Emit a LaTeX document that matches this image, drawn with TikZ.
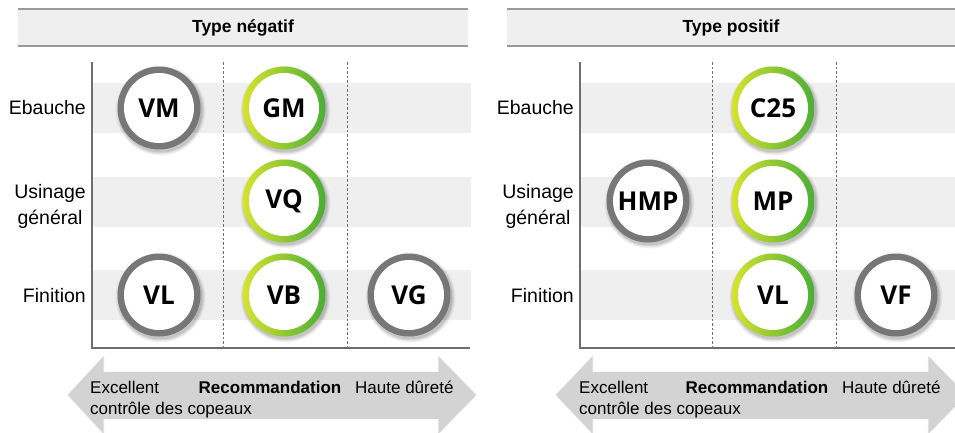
\documentclass[tikz,border=0pt]{standalone}
\usepackage{fontspec}
\setmainfont{Liberation Sans}
\newfontfamily\circfont{Open Sans}
\definecolor{bandgray}{HTML}{EFEFEF}
\definecolor{headline}{HTML}{9A9A9A}
\definecolor{axisgray}{HTML}{6E6E6E}
\definecolor{ringgray}{HTML}{777777}
\definecolor{ringyellow}{HTML}{D8E32E}
\definecolor{ringgreen}{HTML}{4AAE35}
\definecolor{arrowfill}{HTML}{D3D3D3}
\begin{document}
\begin{tikzpicture}[x=1pt,y=-1pt,
  band/.style={fill=bandgray},
  header/.style={fill=bandgray},
  headrule/.style={draw=headline, line width=1.2pt},
  axisline/.style={draw=axisgray, line width=1.2pt},
  sepline/.style={draw=axisgray, line width=0.8pt, dash pattern=on 2.5pt off 2pt},
  headtext/.style={font=\bfseries\fontsize{17.5}{20}\selectfont},
  rowlabel/.style={font=\fontsize{19.5}{26}\selectfont, align=center, inner sep=0},
  arrtxt/.style={font=\fontsize{17}{20}\selectfont, anchor=base west, inner sep=0},
  arrbold/.style={font=\bfseries\fontsize{17}{20}\selectfont, anchor=base, inner sep=0},
  ringbase/.style={circle, minimum size=83pt, inner sep=0pt,
    font=\circfont\bfseries\fontsize{26}{28}\selectfont,
    path picture={\fill[white] (path picture bounding box.center) circle (35pt);}},
  grayring/.style={ringbase, fill=ringgray},
  greenring/.style={ringbase, left color=ringyellow, right color=ringgreen},
  bigarrow/.style={fill=arrowfill, draw=white!88!arrowfill, line width=0.8pt}
]
\useasboundingbox (0,0) rectangle (955,432);

% ---------- headers ----------
\fill[header] (18,9) rectangle (468,46);
\draw[headrule] (18,9) -- (468,9) (18,46) -- (468,46);
\node[headtext] (hneg) at (243,27.5) {Type négatif};
\fill[header] (507,9) rectangle (955,46);
\draw[headrule] (507,9) -- (955,9) (507,46) -- (955,46);
\node[headtext] (hpos) at (731,27.5) {Type positif};

% ---------- bands ----------
\foreach \ya/\yb in {83/133, 177/227, 270/320}{
  \fill[band] (92,\ya) rectangle (471,\yb);
  \fill[band] (580,\ya) rectangle (955,\yb);
}

% ---------- separators and axes ----------
\draw[sepline] (223,62) -- (223,348);
\draw[sepline] (347,62) -- (347,348);
\draw[sepline] (712,62) -- (712,348);
\draw[sepline] (836,62) -- (836,348);
\draw[axisline] (92,62) -- (92,348) -- (470,348);
\draw[axisline] (580,62) -- (580,348) -- (955,348);

% ---------- row labels ----------
\node[rowlabel, anchor=east] (le1) at (86,108) {Ebauche};
\node[rowlabel, anchor=east] (le2) at (86,206) {Usinage\\général};
\node[rowlabel, anchor=east] (le3) at (86,296) {Finition};
\node[rowlabel, anchor=east] (re1) at (574,108) {Ebauche};
\node[rowlabel, anchor=east] (re2) at (574,206) {Usinage\\général};
\node[rowlabel, anchor=east] (re3) at (574,296) {Finition};

% ---------- soft shadows ----------
\foreach \cx/\cy in {159/108, 284/108, 284/201, 159/295, 284/295, 409/295,
                     773/108, 648/201, 773/201, 773/295, 896/295}{
  \foreach \r/\o in {45/0.04, 44/0.05, 43/0.07, 42/0.09}{
    \fill[black, opacity=\o] (\cx+1.5,\cy+2.5) circle (\r pt);
  }
}

% ---------- circles: negative type ----------
\node[grayring]  (vm)  at (159,108) {VM};
\node[greenring] (gm)  at (284,108) {GM};
\node[greenring] (vq)  at (284,201) {VQ};
\node[grayring]  (vln) at (159,295) {VL};
\node[greenring] (vb)  at (284,295) {VB};
\node[grayring]  (vg)  at (409,295) {VG};

% ---------- circles: positive type ----------
\node[greenring] (c25) at (773,108) {C25};
\node[grayring]  (hmp) at (648,201) {HMP};
\node[greenring] (mp)  at (773,201) {MP};
\node[greenring] (vlp) at (773,295) {VL};
\node[grayring]  (vf)  at (896,295) {VF};

% ---------- bottom arrows ----------
\draw[bigarrow] (67,395) -- (104,355) -- (104,371.5) -- (438,371.5) -- (438,355)
  -- (477,395) -- (438,435) -- (438,419.5) -- (104,419.5) -- (104,435) -- cycle;
\draw[bigarrow] (555,395) -- (593,355) -- (593,371.5) -- (928,371.5) -- (928,355)
  -- (967,395) -- (928,435) -- (928,419.5) -- (593,419.5) -- (593,435) -- cycle;

\node[arrtxt] (lex) at (90,393) {Excellent};
\node[arrtxt] (lcc) at (90,414) {contrôle des copeaux};
\node[arrbold] (lrec) at (270,393) {Recommandation};
\node[arrtxt] (lhd) at (355,393) {Haute dûreté};

\node[arrtxt] (rex) at (579,393) {Excellent};
\node[arrtxt] (rcc) at (579,414) {contrôle des copeaux};
\node[arrbold] (rrec) at (757,393) {Recommandation};
\node[arrtxt] (rhd) at (842,393) {Haute dûreté};
\end{tikzpicture}
\end{document}
